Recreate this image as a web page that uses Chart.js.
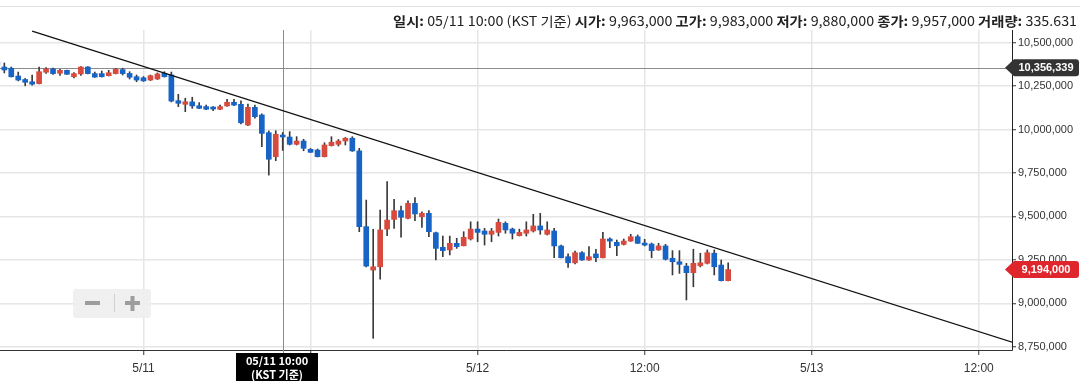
<!DOCTYPE html>
<html>
<head>
<meta charset="utf-8">
<script src="https://cdn.jsdelivr.net/npm/chart.js@4.4.0/dist/chart.umd.min.js"></script>
<style>
  html, body { margin: 0; padding: 0; background: #fff; }
</style>
</head>
<body>
<canvas id="chart" width="1080" height="381"></canvas>
<script>
// 30분봉, 05/10 13:30 부터 (x = 05/11 00:00 기준 시간)
const startHour = -10.5;
const stepHour = 0.5;
// 가격 단위: 천원
const opens = [10389,10360,10353,10308,10288,10275,10264,10330,10349,10324,10341,10304,10320,10360,10322,10322,10310,10322,10345,10323,
  10304,10298,10285,10291,10324,10314,10166,10145,10159,10137,10132,10122,10117,10136,10157,10145,10026,10128,10084,9982,9844,
  9963,9957,9915,9934,9886,9882,9844,9907,9915,9934,9950,9877,9441,9191,9210,9427,9483,9533,9489,9575,9498,9518,9406,9322,
  9307,9345,9331,9370,9427,9416,9397,9408,9460,9427,9389,9403,9416,9445,9397,9416,9330,9268,9233,9291,9249,9284,9262,9370,
  9351,9339,9358,9383,9341,9341,9307,9330,9259,9239,9214,9176,9216,9230,9288,9220,9130];
const highs = [10400,10383,10360,10331,10294,10314,10360,10357,10354,10346,10343,10328,10363,10363,10331,10337,10341,10352,10353,10333,
  10314,10305,10314,10326,10333,10331,10203,10180,10186,10155,10141,10132,10141,10174,10174,10166,10147,10141,10090,9992,9993,
  9983,9988,9959,9944,9891,9888,9924,9959,9943,9954,9959,9892,9594,9426,9537,9700,9598,9560,9589,9608,9527,9533,9410,9387,
  9387,9374,9412,9469,9469,9431,9431,9485,9469,9433,9427,9469,9512,9518,9469,9431,9335,9284,9301,9298,9326,9311,9408,9376,
  9364,9370,9397,9393,9368,9347,9345,9339,9303,9303,9230,9311,9288,9307,9307,9249,9233];
const lows = [10360,10326,10302,10280,10252,10256,10262,10323,10317,10311,10317,10297,10311,10320,10300,10302,10308,10320,10314,10291,
  10275,10277,10282,10288,10302,10159,10132,10103,10122,10120,10114,10109,10115,10133,10138,10032,10023,10066,9901,9738,9821,
  9880,9911,9911,9878,9868,9842,9842,9905,9905,9911,9874,9412,9209,8798,9138,9389,9431,9380,9485,9475,9437,9383,9249,9268,
  9278,9316,9330,9364,9354,9335,9354,9387,9403,9370,9387,9387,9410,9397,9393,9262,9261,9207,9226,9246,9246,9239,9261,9320,
  9274,9335,9356,9344,9330,9262,9304,9249,9163,9172,9019,9095,9209,9226,9163,9128,9128];
const closes = [10372,10343,10304,10285,10272,10261,10333,10349,10322,10341,10318,10322,10360,10322,10302,10304,10327,10347,10322,10301,
  10285,10280,10310,10320,10304,10164,10151,10160,10136,10122,10117,10118,10132,10157,10141,10039,10128,10074,9978,9829,9973,
  9957,9915,9934,9892,9869,9844,9911,9927,9934,9950,9877,9441,9214,9210,9422,9479,9533,9495,9575,9514,9518,9412,9316,9303,
  9345,9326,9380,9427,9408,9397,9416,9466,9422,9403,9408,9422,9445,9422,9422,9330,9262,9233,9291,9249,9268,9262,9370,9358,
  9331,9358,9383,9345,9335,9303,9330,9253,9239,9224,9176,9230,9233,9291,9210,9130,9194];
const volume = '335.631';

const tickHours = [0, 12, 24, 36, 48, 60];
// 05/11 12:00 라벨은 크로스헤어 시간 박스에 가려짐
const tickLabels = ['5/11', '', '5/12', '12:00', '5/13', '12:00'];
const yTicks = [8750000, 9000000, 9250000, 9500000, 9750000, 10000000, 10250000, 10500000];

const trendHours = [-8, 64];
const trendPrices = [10567000, 8735000];
const refPrice = 10356339;
const lastPrice = 9194000;
const crossHour = 10;
const crossText = ['05/11 10:00', '(KST 기준)'];
const headerLabels = ['일시', '시가', '고가', '저가', '종가', '거래량'];

const upColor = '#d94a3e';
const downColor = '#1763c6';
const fmt = v => Math.round(v).toLocaleString('en-US');

const hours = opens.map((o, i) => startHour + i * stepHour);
const bodies = opens.map((o, i) => ({ x: hours[i], y: [o * 1000, closes[i] * 1000] }));
const wicks = opens.map((o, i) => ({ x: hours[i], y: [lows[i] * 1000, highs[i] * 1000] }));
const ci = hours.indexOf(crossHour);
const headerValues = ['05/11 10:00 (KST 기준)', fmt(opens[ci] * 1000), fmt(highs[ci] * 1000), fmt(lows[ci] * 1000), fmt(closes[ci] * 1000), volume];

function priceTag(c, yPix, text, color) {
  c.fillStyle = color;
  c.beginPath();
  c.moveTo(1005, yPix);
  c.lineTo(1014, yPix - 8.5);
  c.lineTo(1076, yPix - 8.5);
  c.quadraticCurveTo(1079, yPix - 8.5, 1079, yPix - 5.5);
  c.lineTo(1079, yPix + 5.5);
  c.quadraticCurveTo(1079, yPix + 8.5, 1076, yPix + 8.5);
  c.lineTo(1014, yPix + 8.5);
  c.closePath();
  c.fill();
  c.fillStyle = '#fff';
  c.font = 'bold 11px "Liberation Sans", Arial, sans-serif';
  c.textAlign = 'center';
  c.textBaseline = 'middle';
  c.fillText(text, 1046, yPix + 0.5);
}

const deco = {
  id: 'deco',
  beforeDraw(chart) {
    const c = chart.ctx;
    c.save();
    c.fillStyle = '#fff';
    c.fillRect(0, 0, chart.width, chart.height);
    c.strokeStyle = '#e3e3e3';
    c.lineWidth = 1;
    c.beginPath();
    c.moveTo(0, 6.5);
    c.lineTo(chart.width, 6.5);
    c.stroke();
    c.restore();
  },
  beforeDatasetsDraw(chart) {
    const c = chart.ctx, a = chart.chartArea, x = chart.scales.x, y = chart.scales.y;
    c.save();
    // zoom buttons
    c.fillStyle = 'rgba(238,238,238,0.9)';
    c.beginPath();
    c.roundRect(73, 289, 78, 29, 3);
    c.fill();
    c.fillStyle = '#9d9d9d';
    c.fillRect(85, 301, 15, 4);
    c.fillRect(125, 301, 15, 4);
    c.fillRect(130.5, 296, 4, 15);
    c.fillStyle = '#cfcfcf';
    c.fillRect(114, 294, 1, 18);
    // reference price line
    const ry = Math.round(y.getPixelForValue(refPrice)) + 0.5;
    c.strokeStyle = '#8c8c8c';
    c.lineWidth = 1;
    c.beginPath();
    c.moveTo(a.left, ry);
    c.lineTo(a.right, ry);
    c.stroke();
    // crosshair
    const cx = Math.round(x.getPixelForValue(crossHour)) + 0.5;
    c.beginPath();
    c.moveTo(cx, a.top);
    c.lineTo(cx, chart.height);
    c.stroke();
    c.restore();
  },
  afterDraw(chart) {
    const c = chart.ctx, x = chart.scales.x, y = chart.scales.y;
    c.save();
    priceTag(c, y.getPixelForValue(refPrice), fmt(refPrice), '#333333');
    priceTag(c, y.getPixelForValue(lastPrice), fmt(lastPrice), '#e0262d');

    // crosshair time box
    const cx = Math.round(x.getPixelForValue(crossHour));
    c.fillStyle = '#000';
    c.fillRect(cx - 47, 353, 82, 28);
    c.fillStyle = '#fff';
    c.font = 'bold 11px "Noto Sans CJK KR", "Liberation Sans", sans-serif';
    c.textAlign = 'center';
    c.textBaseline = 'middle';
    c.fillText(crossText[0], cx - 6, 361);
    c.fillText(crossText[1], cx - 6, 375);

    // header
    const bold = 'bold 13px "Noto Sans CJK KR", sans-serif';
    const norm = '13px "Noto Sans CJK KR", sans-serif';
    const parts = [];
    headerLabels.forEach((l, i) => {
      parts.push([l + ': ', bold]);
      parts.push([headerValues[i] + (i < headerLabels.length - 1 ? ' ' : ''), norm]);
    });
    let w = 0;
    parts.forEach(p => { c.font = p[1]; p.push(c.measureText(p[0]).width); w += p[2]; });
    const target = 684;
    const s = target / w;
    c.translate(1077, 21);
    c.scale(s, 1);
    c.fillStyle = '#222';
    c.textAlign = 'left';
    c.textBaseline = 'middle';
    let px = -w;
    parts.forEach(p => { c.font = p[1]; c.fillText(p[0], px, 0); px += p[2]; });
    c.restore();
  }
};

new Chart(document.getElementById('chart'), {
  type: 'bar',
  data: {
    datasets: [
      {
        type: 'line',
        data: trendHours.map((h, i) => ({ x: h, y: trendPrices[i] })),
        borderColor: '#111',
        borderWidth: 1.3,
        pointRadius: 0,
        order: 0
      },
      {
        data: bodies,
        backgroundColor: ctx => {
          const i = ctx.dataIndex;
          return closes[i] >= opens[i] ? upColor : downColor;
        },
        barThickness: 5,
        minBarLength: 2,
        grouped: false,
        order: 1
      },
      {
        data: wicks,
        backgroundColor: '#3a3a3a',
        barThickness: 1,
        grouped: false,
        order: 2
      }
    ]
  },
  options: {
    responsive: false,
    animation: false,
    layout: { padding: { top: 30, left: 0, right: 0, bottom: 0 } },
    plugins: { legend: { display: false }, tooltip: { enabled: false } },
    scales: {
      x: {
        type: 'linear',
        min: -10.31,
        max: 62.39,
        offset: false,
        afterBuildTicks: s => { s.ticks = tickHours.map(v => ({ value: v })); },
        afterFit: s => { s.height = 31; },
        ticks: {
          callback: v => tickLabels[tickHours.indexOf(v)],
          font: { family: '"Liberation Sans", Arial, sans-serif', size: 12 },
          color: '#333',
          padding: 6,
          maxRotation: 0,
          autoSkip: false
        },
        grid: { offset: false, color: '#e6e6e6', lineWidth: 1.5, tickColor: '#333', tickLength: 5, tickWidth: 1 },
        border: { color: '#333', width: 1 }
      },
      y: {
        position: 'right',
        min: 8731000,
        max: 10573000,
        afterBuildTicks: s => { s.ticks = yTicks.map(v => ({ value: v })); },
        afterFit: s => { s.width = 68; },
        ticks: {
          callback: v => fmt(v),
          font: { family: '"Liberation Sans", Arial, sans-serif', size: 11 },
          color: '#333',
          padding: 2
        },
        grid: { color: '#e6e6e6', lineWidth: 1.5, tickColor: '#333', tickLength: 4, tickWidth: 1 },
        border: { color: '#222', width: 1 }
      }
    }
  },
  plugins: [deco]
});
</script>
</body>
</html>
